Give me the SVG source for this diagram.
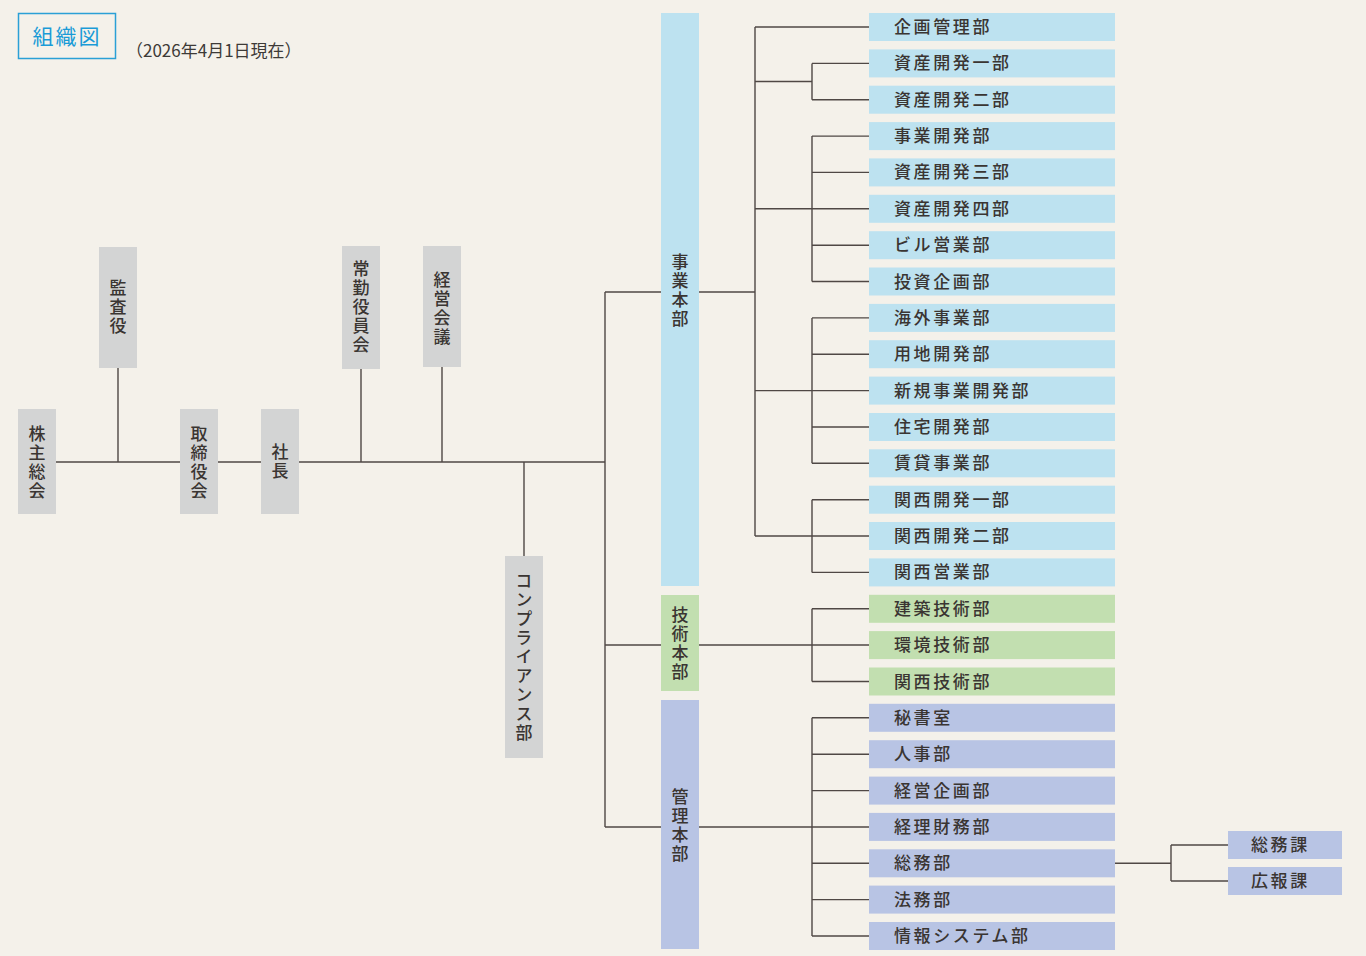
<svg xmlns="http://www.w3.org/2000/svg" width="1366" height="956" viewBox="0 0 1366 956">
<style>
.bg{fill:#f4f1ea}
.g{fill:#d3d4d4}
.b{fill:#bde2f0}
.gr{fill:#c2dfb0}
.p{fill:#b8c4e4}
.t{font-family:"Noto Sans CJK JP","Noto Sans",sans-serif;font-size:17px;font-weight:500;fill:#3a3532}
.v{writing-mode:vertical-rl;text-anchor:middle;letter-spacing:2px}
.d{letter-spacing:2.6px}
.ln{stroke:#4f4845;stroke-width:1.4;fill:none}
</style>
<rect class="bg" x="0" y="0" width="1366" height="956"/>
<g id="title">
<rect x="18.5" y="13.5" width="97" height="45" fill="none" stroke="#2aa0d6" stroke-width="1.5"/>
<text x="67" y="44" text-anchor="middle" font-family="'Noto Sans CJK JP',sans-serif" font-size="21" fill="#1a9bd7" letter-spacing="2">組織図</text>
</g>
<text x="126" y="57" font-family="'Noto Sans CJK JP',sans-serif" font-size="17" fill="#3d3a37">（2026年4月1日現在）</text>

<g id="connectors" class="ln">
<path d="M56 462H605M118 368V462M361 369V462M442 367V462M524 462V556"/>
<path d="M605 292V827M605 292H661M605 645H661M605 827H661"/>
<path d="M699 292H755M755 27V536M755 27H869M755 81.5H812M812 63.4V99.7M812 63.4H869M812 99.7H869"/>
<path d="M755 208.8H869M812 136.1V281.5M812 136.1H869M812 172.4H869M812 245.2H869M812 281.5H869"/>
<path d="M755 390.6H869M812 317.9V463.3M812 317.9H869M812 354.2H869M812 427H869M812 463.3H869"/>
<path d="M755 536H869M812 499.7V572.4M812 499.7H869M812 572.4H869"/>
<path d="M699 645H869M812 608.8V681.5M812 608.8H869M812 681.5H869"/>
<path d="M699 827H869M812 717.8V936M812 717.8H869M812 754.2H869M812 790.6H869M812 863.3H869M812 899.6H869M812 936H869"/>
<path d="M1115 863.3H1171M1171 845V881M1171 845H1228M1171 881H1228"/>
</g>

<g id="n-kabunushi"><rect class="g" x="18" y="409" width="38" height="105"/>
<text class="t v" x="37" y="463">株主総会</text></g>
<g id="n-kansa"><rect class="g" x="99" y="247" width="38" height="121"/>
<text class="t v" x="118" y="308">監査役</text></g>
<g id="n-torishimari"><rect class="g" x="180" y="409" width="38" height="105"/>
<text class="t v" x="199" y="463">取締役会</text></g>
<g id="n-shacho"><rect class="g" x="261" y="409" width="38" height="105"/>
<text class="t v" x="280" y="462">社長</text></g>
<g id="n-jokin"><rect class="g" x="342" y="246" width="38" height="123"/>
<text class="t v" x="361" y="308">常勤役員会</text></g>
<g id="n-keiei"><rect class="g" x="423" y="246" width="38" height="121"/>
<text class="t v" x="442" y="309">経営会議</text></g>
<g id="n-compliance"><rect class="g" x="505" y="556" width="38" height="202"/>
<text class="t v" x="524" y="658">コンプライアンス部</text></g>

<g id="n-jigyo-honbu"><rect class="b" x="661" y="13" width="38" height="573"/>
<text class="t v" x="680" y="291">事業本部</text></g>
<g id="n-gijutsu-honbu"><rect class="gr" x="661" y="595" width="38" height="96"/>
<text class="t v" x="680" y="644">技術本部</text></g>
<g id="n-kanri-honbu"><rect class="p" x="661" y="700" width="38" height="249"/>
<text class="t v" x="680" y="826">管理本部</text></g>

<g id="d0"><rect class="b" x="869" y="13" width="246" height="28"/><text class="t d" x="894" y="33">企画管理部</text></g>
<g id="d1"><rect class="b" x="869" y="49.4" width="246" height="28"/><text class="t d" x="894" y="69.4">資産開発一部</text></g>
<g id="d2"><rect class="b" x="869" y="85.7" width="246" height="28"/><text class="t d" x="894" y="105.7">資産開発二部</text></g>
<g id="d3"><rect class="b" x="869" y="122.1" width="246" height="28"/><text class="t d" x="894" y="142.1">事業開発部</text></g>
<g id="d4"><rect class="b" x="869" y="158.4" width="246" height="28"/><text class="t d" x="894" y="178.4">資産開発三部</text></g>
<g id="d5"><rect class="b" x="869" y="194.8" width="246" height="28"/><text class="t d" x="894" y="214.8">資産開発四部</text></g>
<g id="d6"><rect class="b" x="869" y="231.2" width="246" height="28"/><text class="t d" x="894" y="251.2">ビル営業部</text></g>
<g id="d7"><rect class="b" x="869" y="267.5" width="246" height="28"/><text class="t d" x="894" y="287.5">投資企画部</text></g>
<g id="d8"><rect class="b" x="869" y="303.9" width="246" height="28"/><text class="t d" x="894" y="323.9">海外事業部</text></g>
<g id="d9"><rect class="b" x="869" y="340.2" width="246" height="28"/><text class="t d" x="894" y="360.2">用地開発部</text></g>
<g id="d10"><rect class="b" x="869" y="376.6" width="246" height="28"/><text class="t d" x="894" y="396.6">新規事業開発部</text></g>
<g id="d11"><rect class="b" x="869" y="413" width="246" height="28"/><text class="t d" x="894" y="433">住宅開発部</text></g>
<g id="d12"><rect class="b" x="869" y="449.3" width="246" height="28"/><text class="t d" x="894" y="469.3">賃貸事業部</text></g>
<g id="d13"><rect class="b" x="869" y="485.7" width="246" height="28"/><text class="t d" x="894" y="505.7">関西開発一部</text></g>
<g id="d14"><rect class="b" x="869" y="522" width="246" height="28"/><text class="t d" x="894" y="542">関西開発二部</text></g>
<g id="d15"><rect class="b" x="869" y="558.4" width="246" height="28"/><text class="t d" x="894" y="578.4">関西営業部</text></g>
<g id="d16"><rect class="gr" x="869" y="594.8" width="246" height="28"/><text class="t d" x="894" y="614.8">建築技術部</text></g>
<g id="d17"><rect class="gr" x="869" y="631.1" width="246" height="28"/><text class="t d" x="894" y="651.1">環境技術部</text></g>
<g id="d18"><rect class="gr" x="869" y="667.5" width="246" height="28"/><text class="t d" x="894" y="687.5">関西技術部</text></g>
<g id="d19"><rect class="p" x="869" y="703.8" width="246" height="28"/><text class="t d" x="894" y="723.8">秘書室</text></g>
<g id="d20"><rect class="p" x="869" y="740.2" width="246" height="28"/><text class="t d" x="894" y="760.2">人事部</text></g>
<g id="d21"><rect class="p" x="869" y="776.6" width="246" height="28"/><text class="t d" x="894" y="796.6">経営企画部</text></g>
<g id="d22"><rect class="p" x="869" y="812.9" width="246" height="28"/><text class="t d" x="894" y="832.9">経理財務部</text></g>
<g id="d23"><rect class="p" x="869" y="849.3" width="246" height="28"/><text class="t d" x="894" y="869.3">総務部</text></g>
<g id="d24"><rect class="p" x="869" y="885.6" width="246" height="28"/><text class="t d" x="894" y="905.6">法務部</text></g>
<g id="d25"><rect class="p" x="869" y="922" width="246" height="28"/><text class="t d" x="894" y="942">情報システム部</text></g>

<g id="s-somuka"><rect class="p" x="1228" y="831" width="114" height="28"/><text class="t d" x="1251" y="851">総務課</text></g>
<g id="s-kohoka"><rect class="p" x="1228" y="867" width="114" height="28"/><text class="t d" x="1251" y="887">広報課</text></g>
</svg>
